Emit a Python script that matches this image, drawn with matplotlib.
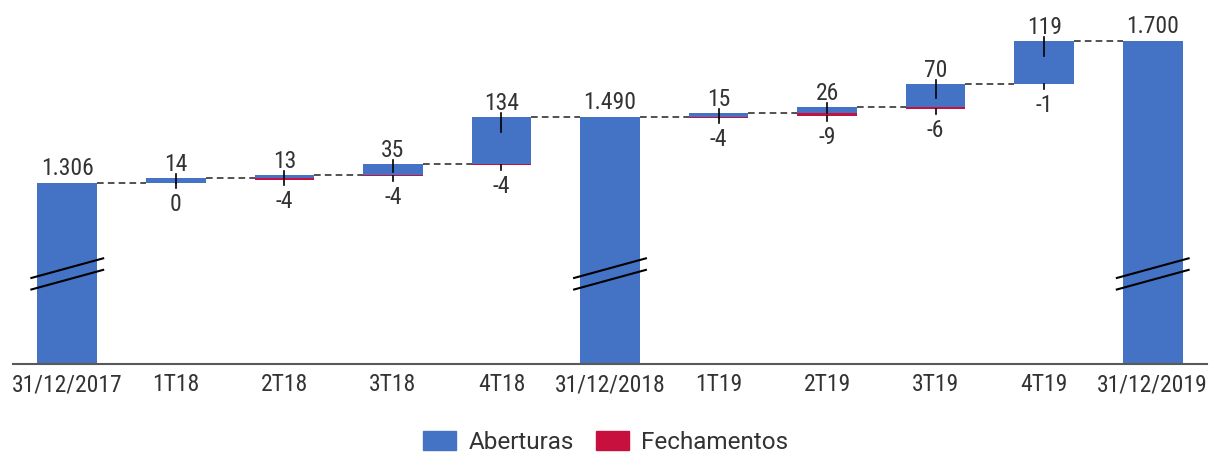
import matplotlib.pyplot as plt
from matplotlib import font_manager
from matplotlib.patches import Patch

# data
categories = ["31/12/2017", "1T18", "2T18", "3T18", "4T18", "31/12/2018",
              "1T19", "2T19", "3T19", "4T19", "31/12/2019"]
totals = [1306, 1490, 1700]
total_positions = [0, 5, 10]
aberturas = [14, 13, 35, 134, 15, 26, 70, 119]
fechamentos = [0, 4, 4, 4, 4, 9, 6, 1]

BLUE = "#4472C4"
RED = "#C8103E"
TEXT = "#333333"

# condensed font if there is one, else plain Roboto a bit smaller
try:
    font_manager.findfont("Roboto Condensed", fallback_to_default=False)
    plt.rcParams["font.family"] = ["Roboto Condensed", "DejaVu Sans"]
    FS = 17
except ValueError:
    plt.rcParams["font.family"] = ["Roboto", "DejaVu Sans"]
    FS = 15

W, H = 1211, 456
fig = plt.figure(figsize=(W / 100, H / 100), dpi=100)
ax = fig.add_axes([13 / W, (H - 365) / H, 1194 / W, 365 / H])

ymin, ymax = 804, 1817
ax.set_xlim(-0.5, len(categories) - 0.5)
ax.set_ylim(ymin, ymax)
upp = (ymax - ymin) / 365.0  # data units per pixel
bw = 0.55


def fmt(v):
    return f"{v:,}".replace(",", ".")


level = None
q = 0
for i, cat in enumerate(categories):
    if i in total_positions:
        v = totals[total_positions.index(i)]
        ax.bar(i, v - ymin, bottom=ymin, width=bw, color=BLUE, zorder=2)
        ax.annotate(fmt(v), (i, v), xytext=(0, 9), textcoords="offset pixels",
                    ha="center", va="baseline", fontsize=FS, color=TEXT)
        # axis break marks
        for y0, y1 in [(1042, 1098), (1010, 1066)]:
            ax.plot([i - 0.34, i + 0.34], [y0, y1], color="black", lw=1.5,
                    zorder=4, solid_capstyle="butt")
        level = v
    else:
        op, cl = aberturas[q], fechamentos[q]
        q += 1
        bottom = level - cl
        top = bottom + op
        ax.bar(i, op, bottom=bottom, width=bw, color=BLUE, zorder=2)
        if cl > 0:
            ax.bar(i, cl, bottom=bottom, width=bw, color=RED, zorder=3)
        # leader lines
        down = min(0.5 * op / upp + 2, 15)
        ax.plot([i, i], [top + 4 * upp, top - down * upp], color="black",
                lw=1.2, zorder=4)
        ax.plot([i, i], [bottom, bottom - 5 * upp], color="black",
                lw=1.2, zorder=4)
        ax.annotate(str(op), (i, top), xytext=(0, 8), textcoords="offset pixels",
                    ha="center", va="baseline", fontsize=FS, color=TEXT)
        ax.annotate(f"-{cl}" if cl else "0", (i, bottom), xytext=(0, -9),
                    textcoords="offset pixels", ha="center", va="top",
                    fontsize=FS, color=TEXT)
        level = top
    # connector to the next bar
    if i < len(categories) - 1:
        ax.plot([i + bw / 2, i + 1 - bw / 2], [level, level], color="#333333",
                lw=1.2, linestyle=(0, (4, 2.5)), zorder=1)

ax.set_xticks(range(len(categories)))
ax.set_xticklabels(categories, fontsize=FS, color=TEXT)
ax.tick_params(axis="x", length=0, pad=6)
ax.set_yticks([])
for s in ["top", "left", "right"]:
    ax.spines[s].set_visible(False)
ax.spines["bottom"].set_color("#595959")
ax.spines["bottom"].set_linewidth(1.5)

# legend letters are wider in the original, plain Roboto fits better
LFS = 17.5
handles = [Patch(color=BLUE, label="Aberturas"), Patch(color=RED, label="Fechamentos")]
fig.legend(handles=handles, loc="center", bbox_to_anchor=(0.5, 13 / H), ncol=2,
           frameon=False, prop={"family": ["Roboto", "DejaVu Sans"], "size": LFS},
           handlelength=33 / (LFS * 1.39), handleheight=20 / (LFS * 1.39),
           handletextpad=0.5, columnspacing=0.9, labelcolor=TEXT)

fig.savefig("out.png", dpi=100)
